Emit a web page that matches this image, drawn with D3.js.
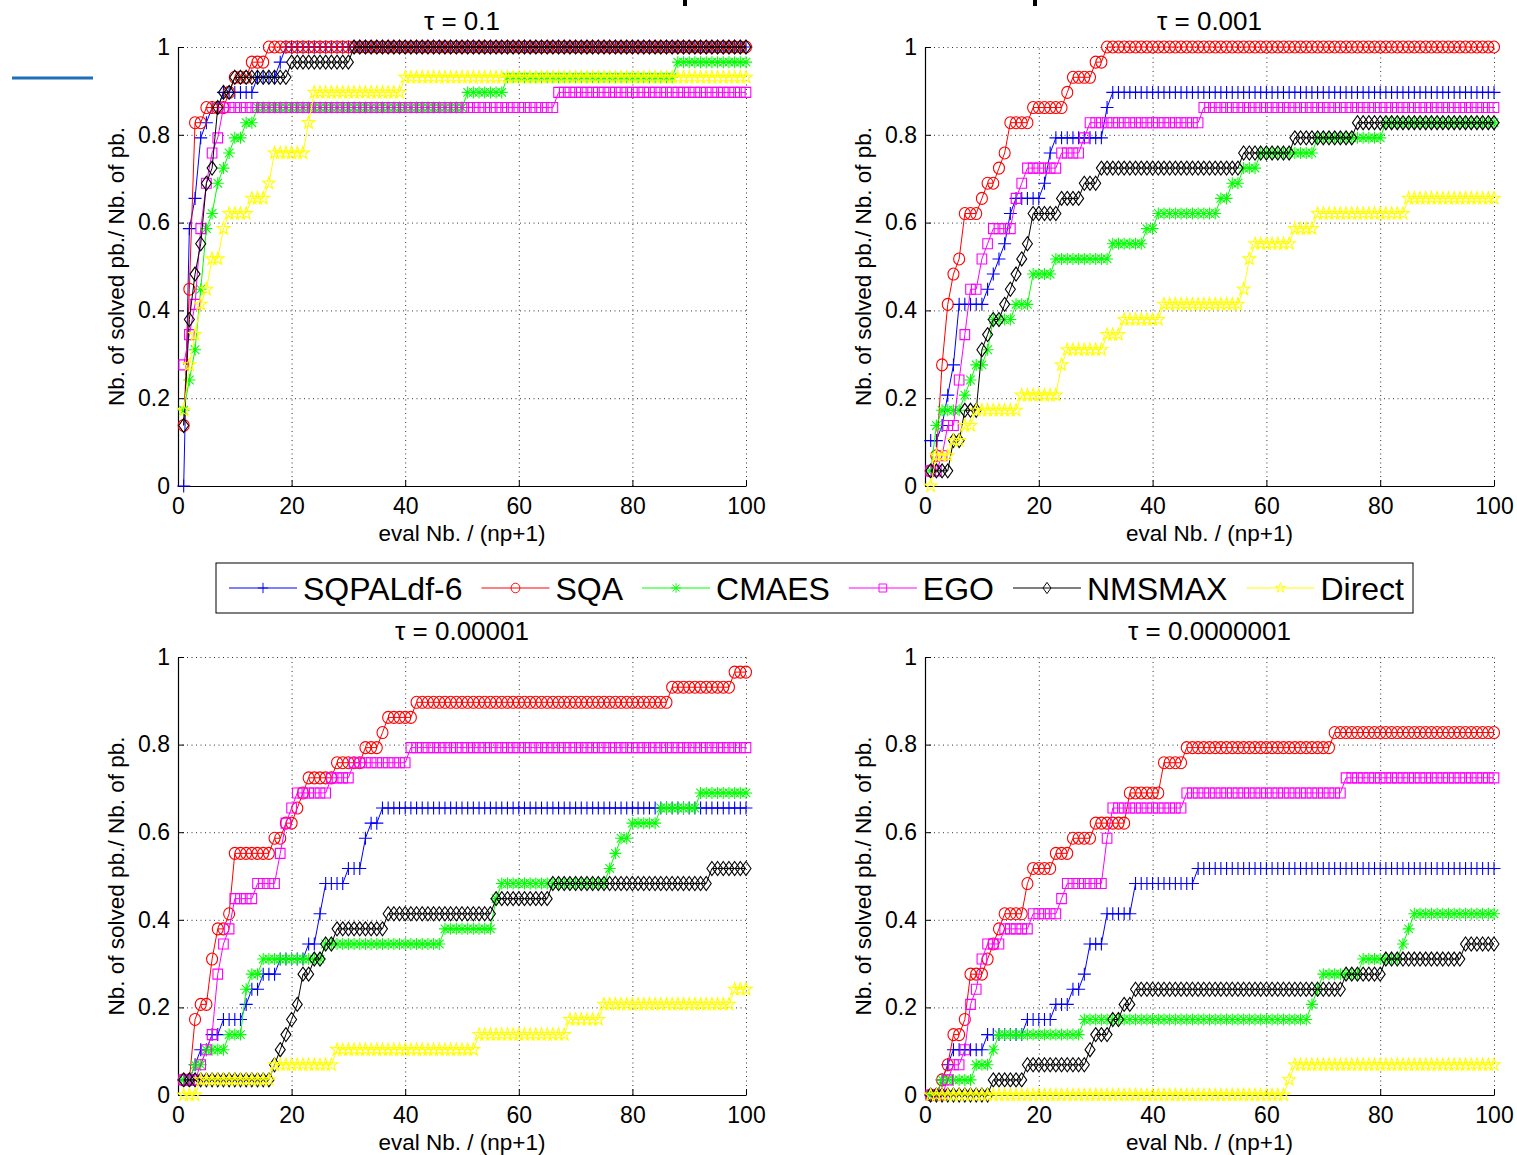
<!DOCTYPE html>
<html>
<head>
<meta charset="utf-8">
<script src="https://cdn.jsdelivr.net/npm/d3@7"></script>
<style>
  body { margin: 0; background: #fff; }
  svg text { font-family: "Liberation Sans", Arial, Helvetica, sans-serif; fill: #000; }
</style>
</head>
<body>
<div id="chart"></div>
<script>
// solvers, in legend order
var solvers = ["SQPALdf-6", "SQA", "CMAES", "EGO", "NMSMAX", "Direct"];
var solverColors = ["#0000ff", "#ff0000", "#00ff00", "#ff00ff", "#000000", "#ffff00"];
var solverMarkers = ["plus", "circle", "asterisk", "square", "diamond", "pentagram"];

var tauLabels = ["\u03c4 = 0.1", "\u03c4 = 0.001", "\u03c4 = 0.00001", "\u03c4 = 0.0000001"];
var xLabel = "eval Nb. / (np+1)";
var yLabel = "Nb. of solved pb./ Nb. of pb.";
var xTicks = [0, 20, 40, 60, 80, 100];
var yTicks = [0, 0.2, 0.4, 0.6, 0.8, 1];

var nbProblems = 29;
// eval budgets where every profile is sampled
var evals = d3.range(1, 101);

// profiles as steps: [first budget where the count holds, nb of solved problems]
// rows follow the solvers order
var tau1 = [
  [[1,0],[2,17],[3,19],[4,23],[5,24],[6,25],[8,26],[14,27],[18,28],[19,29]],
  [[1,4],[2,13],[3,24],[5,25],[9,26],[10,27],[13,28],[16,29]],
  [[1,5],[2,7],[3,9],[4,13],[5,17],[6,18],[7,20],[8,21],[9,22],[10,23],[12,24],[14,25],[51,26],[58,27],[88,28]],
  [[1,8],[2,10],[3,12],[4,17],[5,20],[6,22],[7,23],[8,25],[67,26]],
  [[1,4],[2,11],[3,14],[4,16],[5,20],[6,21],[7,25],[8,26],[10,27],[20,28],[31,29]],
  [[1,5],[2,8],[3,10],[4,12],[5,13],[6,15],[8,17],[9,18],[13,19],[16,20],[17,22],[23,24],[24,26],[40,27]]
];
var tau2 = [
  [[1,3],[3,4],[4,6],[5,8],[6,12],[11,13],[12,14],[13,15],[14,16],[15,18],[16,19],[21,20],[22,22],[23,23],[32,25],[33,26]],
  [[1,1],[2,2],[3,8],[4,12],[5,14],[6,15],[7,18],[10,19],[11,20],[13,21],[14,22],[15,24],[19,25],[25,26],[26,27],[30,28],[32,29]],
  [[1,1],[2,4],[3,5],[7,6],[8,7],[9,8],[11,9],[12,11],[16,12],[19,14],[23,15],[33,16],[39,17],[41,18],[52,19],[54,20],[56,21],[59,22],[69,23],[81,24]],
  [[1,1],[3,2],[4,4],[6,7],[7,10],[8,13],[10,15],[11,16],[12,17],[16,19],[17,20],[18,21],[24,22],[28,23],[29,24],[49,25]],
  [[1,1],[5,3],[7,5],[10,9],[11,10],[12,11],[14,12],[15,13],[16,14],[17,15],[18,16],[19,18],[24,19],[28,20],[31,21],[56,22],[65,23],[76,24]],
  [[1,0],[2,2],[5,3],[7,4],[9,5],[17,6],[24,8],[25,9],[32,10],[35,11],[42,12],[56,13],[57,15],[58,16],[65,17],[69,18],[85,19]]
];
var tau3 = [
  [[1,1],[3,2],[4,3],[6,4],[8,5],[12,6],[13,7],[15,8],[18,9],[23,10],[25,12],[26,14],[30,15],[33,17],[34,18],[36,19]],
  [[1,1],[3,5],[4,6],[6,9],[7,11],[9,12],[10,16],[17,17],[19,18],[21,19],[22,20],[23,21],[28,22],[33,23],[36,24],[37,25],[42,26],[87,27],[98,28]],
  [[1,1],[3,2],[5,3],[9,4],[12,7],[13,8],[15,9],[26,10],[47,11],[56,13],[57,14],[76,15],[77,16],[78,17],[80,18],[85,19],[92,20]],
  [[1,1],[4,2],[5,3],[6,4],[7,8],[8,10],[9,11],[10,13],[14,14],[18,16],[19,18],[20,19],[21,20],[27,21],[31,22],[41,23]],
  [[1,1],[17,2],[18,3],[19,4],[20,5],[21,6],[22,8],[24,9],[26,10],[28,11],[37,12],[56,13],[66,14],[94,15]],
  [[1,0],[4,1],[17,2],[28,3],[53,4],[69,5],[75,6],[98,7]]
];
var tau4 = [
  [[1,0],[3,1],[4,2],[5,3],[11,4],[18,5],[23,6],[26,7],[28,8],[29,10],[32,12],[37,14],[48,15]],
  [[1,0],[3,1],[4,2],[5,4],[7,5],[8,8],[11,9],[12,10],[13,11],[14,12],[18,14],[19,15],[23,16],[26,17],[30,18],[36,20],[42,22],[46,23],[72,24]],
  [[1,0],[3,1],[9,2],[12,3],[13,4],[28,5],[68,6],[69,7],[70,8],[77,9],[84,10],[85,11],[86,12]],
  [[1,0],[4,1],[5,2],[7,3],[8,6],[9,7],[10,9],[11,10],[14,11],[19,12],[24,13],[25,14],[32,17],[33,19],[46,20],[74,21]],
  [[1,0],[12,1],[18,2],[29,3],[30,4],[33,5],[35,6],[37,7],[74,8],[81,9],[95,10]],
  [[1,0],[64,1],[65,2]]
];

var panels = [
  {title: tauLabels[0], steps: tau1, left: 178, right: 746, top: 47,  bottom: 486},
  {title: tauLabels[1], steps: tau2, left: 925, right: 1494, top: 47,  bottom: 486},
  {title: tauLabels[2], steps: tau3, left: 178, right: 746, top: 657, bottom: 1095},
  {title: tauLabels[3], steps: tau4, left: 925, right: 1494, top: 657, bottom: 1095}
];

// outline of a 5 point star
function starPath(ro, ri) {
  var pts = [];
  for (var k = 0; k < 10; k++) {
    var r = k % 2 ? ri : ro;
    var a = -Math.PI / 2 + k * Math.PI / 5;
    pts.push((r * Math.cos(a)).toFixed(2) + "," + (r * Math.sin(a)).toFixed(2));
  }
  return "M" + pts.join("L") + "Z";
}

var markerPath = {
  plus: "M-6.5,0H6.5M0,-6.5V6.5",
  circle: "M5.5,0A5.5,6 0 1,1 -5.5,0A5.5,6 0 1,1 5.5,0Z",
  asterisk: "M-6,0H6M0,-6V6M-4.3,-4.3L4.3,4.3M-4.3,4.3L4.3,-4.3",
  square: "M-4.8,-5H4.8V5H-4.8Z",
  diamond: "M0,-7L5,0L0,7L-5,0Z",
  pentagram: starPath(6.6, 2.6)
};

// step profile -> one point per budget
function expand(steps) {
  return evals.map(function(e) {
    var c = 0;
    steps.forEach(function(s) { if (s[0] <= e) c = s[1]; });
    return [e, c / nbProblems];
  });
}

var svg = d3.select("#chart").append("svg")
  .attr("width", 1517)
  .attr("height", 1155)
  .style("display", "block")
  .style("background", "#fff");

// bits of the page around the figure
svg.append("rect").attr("x", 12).attr("y", 76.5).attr("width", 81).attr("height", 3).attr("fill", "#1e6eb8");
svg.append("rect").attr("x", 683).attr("y", 0).attr("width", 4).attr("height", 6).attr("fill", "#000");
svg.append("rect").attr("x", 1033).attr("y", 0).attr("width", 4).attr("height", 6).attr("fill", "#000");

panels.forEach(function(p) {
  var x = d3.scaleLinear().domain([0, 100]).range([p.left, p.right]);
  var y = d3.scaleLinear().domain([0, 1]).range([p.bottom, p.top]);
  var g = svg.append("g");

  // dotted grid
  g.append("g")
    .attr("transform", "translate(0," + p.bottom + ")")
    .call(d3.axisBottom(x).tickValues(xTicks.slice(1)).tickSize(-(p.bottom - p.top)).tickFormat(""))
    .call(function(s) { s.select(".domain").remove(); })
    .selectAll("line").attr("stroke", "#333").attr("stroke-dasharray", "1,3.5");
  g.append("g")
    .attr("transform", "translate(" + p.left + ",0)")
    .call(d3.axisLeft(y).tickValues(yTicks.slice(1)).tickSize(-(p.right - p.left)).tickFormat(""))
    .call(function(s) { s.select(".domain").remove(); })
    .selectAll("line").attr("stroke", "#333").attr("stroke-dasharray", "1,3.5");

  // axes
  var xa = g.append("g")
    .attr("transform", "translate(0," + p.bottom + ")")
    .call(d3.axisBottom(x).tickValues(xTicks).tickSizeInner(-6).tickSizeOuter(0).tickPadding(12));
  var ya = g.append("g")
    .attr("transform", "translate(" + p.left + ",0)")
    .call(d3.axisLeft(y).tickValues(yTicks).tickFormat(String).tickSizeInner(-6).tickSizeOuter(0).tickPadding(8));
  [xa, ya].forEach(function(a) {
    a.attr("font-family", null).attr("font-size", null);
    a.select(".domain").attr("stroke", "#000").attr("stroke-width", 1.2);
    a.selectAll(".tick line").attr("stroke", "#000");
    a.selectAll(".tick text").style("font-size", "23px");
  });

  // profiles
  p.steps.forEach(function(steps, i) {
    var pts = expand(steps);
    g.append("path")
      .datum(pts)
      .attr("fill", "none")
      .attr("stroke", solverColors[i])
      .attr("stroke-width", 1)
      .attr("d", d3.line().x(function(d) { return x(d[0]); }).y(function(d) { return y(d[1]); }));
    g.append("g").selectAll("path")
      .data(pts)
      .join("path")
      .attr("d", markerPath[solverMarkers[i]])
      .attr("transform", function(d) { return "translate(" + x(d[0]) + "," + y(d[1]) + ")"; })
      .attr("fill", "none")
      .attr("stroke", solverColors[i])
      .attr("stroke-width", 1.1);
  });

  // labels
  g.append("text")
    .attr("x", (p.left + p.right) / 2)
    .attr("y", p.top - 17)
    .attr("text-anchor", "middle")
    .style("font-size", "26px")
    .text(p.title);
  g.append("text")
    .attr("x", (p.left + p.right) / 2)
    .attr("y", p.bottom + 55)
    .attr("text-anchor", "middle")
    .style("font-size", "22.5px")
    .text(xLabel);
  g.append("text")
    .attr("transform", "translate(" + (p.left - 54) + "," + ((p.top + p.bottom) / 2) + ") rotate(-90)")
    .attr("text-anchor", "middle")
    .style("font-size", "22.5px")
    .text(yLabel);
});

// legend
var legend = svg.append("g");
legend.append("rect")
  .attr("x", 216).attr("y", 563).attr("width", 1197).attr("height", 50)
  .attr("fill", "#fff").attr("stroke", "#000").attr("stroke-width", 1);
var cursor = 229;
solvers.forEach(function(name, i) {
  var item = legend.append("g").attr("transform", "translate(" + cursor + ",588)");
  item.append("line").attr("x1", 0).attr("x2", 68).attr("y1", 0).attr("y2", 0)
    .attr("stroke", solverColors[i]).attr("stroke-width", 1);
  item.append("path").attr("d", markerPath[solverMarkers[i]])
    .attr("transform", "translate(34,0) scale(0.8)")
    .attr("fill", "none").attr("stroke", solverColors[i]).attr("stroke-width", 1.2);
  var t = item.append("text").attr("x", 74).attr("y", 11.5).style("font-size", "32px").text(name);
  cursor += 74 + t.node().getComputedTextLength() + 19;
});
</script>
</body>
</html>
